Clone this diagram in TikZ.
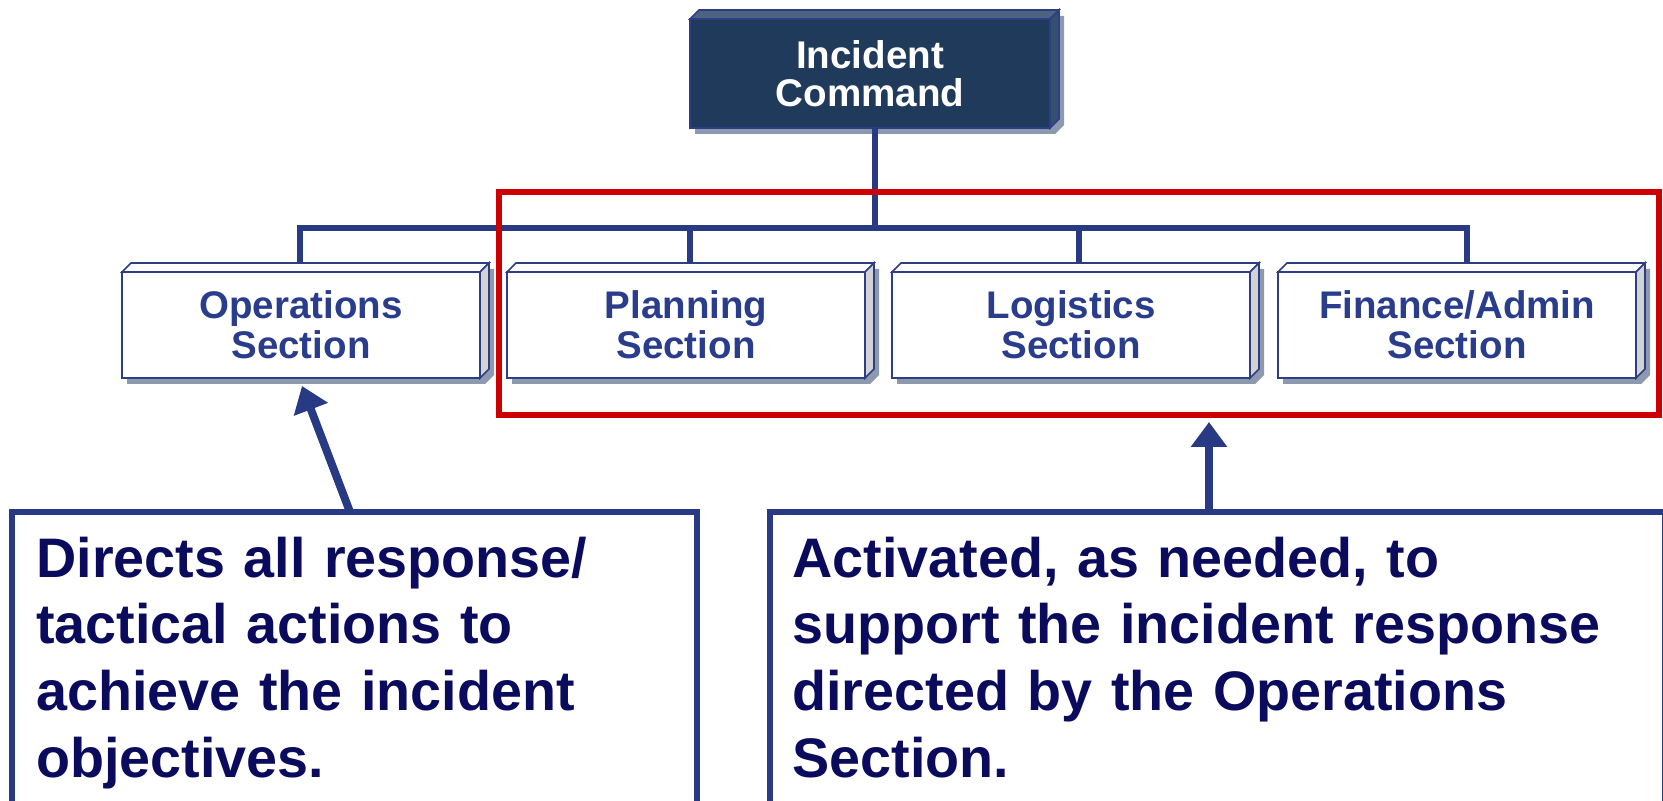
\documentclass[tikz,border=0pt]{standalone}
\usepackage{fontspec}
\setmainfont{Liberation Sans}
\usetikzlibrary{arrows.meta,backgrounds,calc}
\definecolor{linkblue}{HTML}{283A84}
\definecolor{edgeblue}{HTML}{2E3E86}
\definecolor{secttext}{HTML}{2A3C8C}
\definecolor{calltxt}{HTML}{0B0B5E}
\definecolor{icfill}{HTML}{1F3A5A}
\definecolor{ictop}{HTML}{4C6480}
\definecolor{icside}{HTML}{34506E}
\definecolor{sideg}{HTML}{D3D3D3}
\definecolor{shadowc}{HTML}{8D99AE}
\definecolor{redc}{HTML}{CC0000}
\newcommand\boxfaces[4]{%
  \draw[#4, line width=0.8pt, fill=#2] (#1.north west) -- ++(9,-9) -- ($(#1.north east)+(9,-9)$) -- (#1.north east) -- cycle;
  \draw[#4, line width=0.8pt, fill=#3] (#1.north east) -- ++(9,-9) -- ($(#1.south east)+(9,-9)$) -- (#1.south east) -- cycle;
  \begin{scope}[on background layer]
    \fill[shadowc] ($(#1.north west)+(5,6)$) -- ($(#1.north west)+(14,-3)$) -- ($(#1.north east)+(14,-3)$) -- ($(#1.south east)+(14,-3)$) -- ($(#1.south east)+(5,6)$) -- ($(#1.south west)+(5,6)$) -- cycle;
  \end{scope}
}
\tikzset{
  sect/.style={draw=edgeblue, line width=0.8pt, fill=white, outer sep=0pt, inner sep=0pt,
    minimum width=179pt, minimum height=53pt, align=center, text=secttext,
    font=\fontsize{19.25pt}{20pt}\selectfont\bfseries},
  icbox/.style={draw=edgeblue, line width=0.8pt, fill=icfill, outer sep=0pt, inner sep=0pt,
    minimum width=180pt, minimum height=54.5pt, align=center, text=white,
    font=\fontsize{19.3pt}{19pt}\selectfont\bfseries},
  link/.style={draw=linkblue, line width=2.6pt},
  callbox/.style={draw=linkblue, line width=2.8pt, fill=white, outer sep=0pt, inner sep=0pt},
  calltext/.style={text=calltxt, inner sep=0pt, align=left, anchor=base west,
    font=\fontsize{27.85pt}{33.35pt}\selectfont\bfseries},
  callarrow/.style={draw=linkblue, line width=4pt, -{Triangle[width=17.5pt,length=12.5pt]}},
  redframe/.style={draw=redc, line width=3pt}
}
\begin{document}
\begin{tikzpicture}[x=0.5pt,y=-0.5pt]
\useasboundingbox (0,0) rectangle (1663,801);
\clip (0,0) rectangle (1663,801);
\begin{scope}[on background layer]
\fill[white] (0,0) rectangle (1663,801);
\end{scope}

% Incident Command
\node[icbox] (ic) at (870,73.5) {Incident\\Command};
\boxfaces{ic}{ictop}{icside}{edgeblue}

% Sections
\node[sect] (ops)  at (301,325)  {Operations\\Section};
\boxfaces{ops}{white}{sideg}{edgeblue}
\node[sect] (plan) at (686,325)  {Planning\\Section};
\boxfaces{plan}{white}{sideg}{edgeblue}
\node[sect] (logi) at (1071,325) {Logistics\\Section};
\boxfaces{logi}{white}{sideg}{edgeblue}
\node[sect] (fin)  at (1457,325) {Finance/Admin\\Section};
\boxfaces{fin}{white}{sideg}{edgeblue}

% connectors
\coordinate (jIC) at (875,228);
\coordinate (jO) at (300,228);
\coordinate (jP) at (690,228);
\coordinate (jL) at (1079,228);
\coordinate (jF) at (1467,228);
\path ($(ops.north)+(0,-9)$) coordinate (opsT)
      ($(plan.north)+(0,-9)$) coordinate (planT)
      ($(logi.north)+(0,-9)$) coordinate (logiT)
      ($(fin.north)+(0,-9)$) coordinate (finT);
\draw[link] (jIC |- ic.south) -- (jIC);
\draw[link] (jO |- opsT) -- (jO) -- (jF) -- (jF |- finT);
\draw[link] (jP) -- (jP |- planT);
\draw[link] (jL) -- (jL |- logiT);

% red frame
\draw[redframe] (499,192) rectangle (1659,415);

% callout boxes
\node[callbox, minimum width=342.5pt, minimum height=164pt] (lbox) at (354.5,676) {};
\node[callbox, minimum width=447.5pt, minimum height=164pt] (rbox) at (1217.5,676) {};
\node[calltext, text width=330pt] (ltext) at (36,577) {Directs all response/\\tactical actions to\\achieve the incident\\objectives.};
\node[calltext, text width=420pt] (rtext) at (792,577) {Activated, as needed, to\\support the incident response\\directed by the Operations\\Section.};

% arrows
\coordinate (a1tail) at (350,512);
\coordinate (a1tip) at (302,386);
\coordinate (a2tail) at (1209,512);
\coordinate (a2tip) at (1209,422);
\draw[callarrow] (a1tail) -- (a1tip);
\draw[callarrow] (a2tail) -- (a2tip);
\end{tikzpicture}
\end{document}
